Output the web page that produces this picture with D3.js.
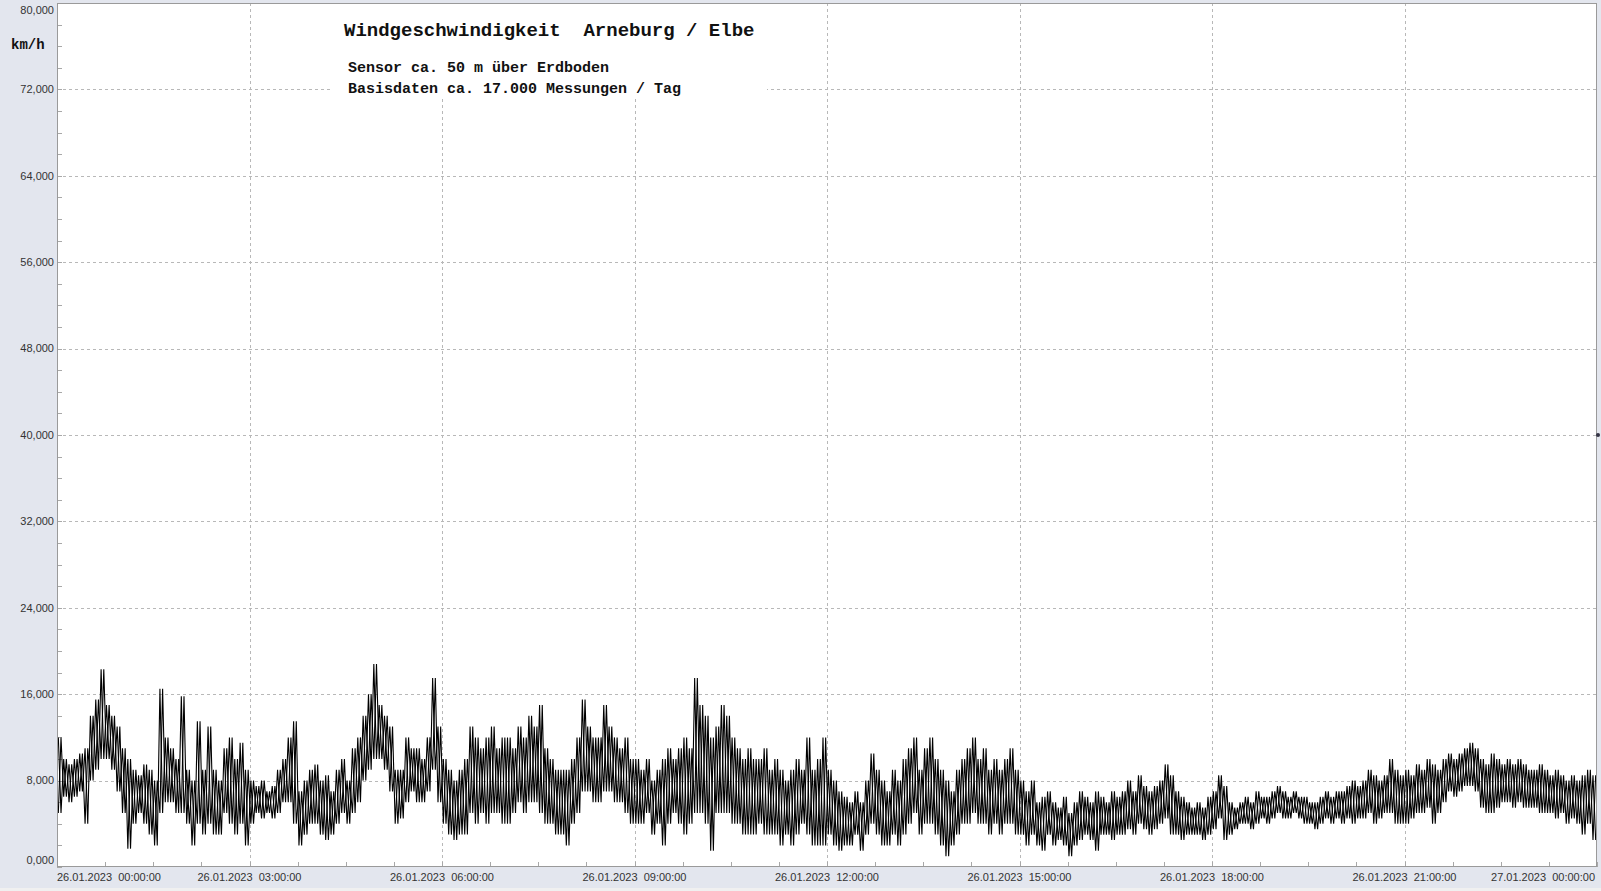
<!DOCTYPE html>
<html><head><meta charset="utf-8">
<script src="https://cdn.jsdelivr.net/npm/d3@7"></script>
<style>
html,body{margin:0;padding:0;background:#e3e6ee;}
svg{display:block;}
text{white-space:pre;}
</style></head>
<body>
<svg id="chart" width="1601" height="891"></svg>
<script>
// ---------- data ----------
const titleText = "Windgeschwindigkeit  Arneburg / Elbe";
const subtitle1 = "Sensor ca. 50 m über Erdboden";
const subtitle2 = "Basisdaten ca. 17.000 Messungen / Tag";
const unitLabel = "km/h";
const yTicks = [0, 8, 16, 24, 32, 40, 48, 56, 64, 72, 80];
const yTickLabels = ["0,000","8,000","16,000","24,000","32,000","40,000","48,000","56,000","64,000","72,000","80,000"];
const xTickHours = [0, 3, 6, 9, 12, 15, 18, 21, 24];
const xTickLabels = ["26.01.2023  00:00:00","26.01.2023  03:00:00","26.01.2023  06:00:00","26.01.2023  09:00:00",
  "26.01.2023  12:00:00","26.01.2023  15:00:00","26.01.2023  18:00:00","26.01.2023  21:00:00","27.01.2023  00:00:00"];
const binMinutes = 5;
// per 5-minute bin: highest reading (km/h), one row per hour
const hiVals = [
 12,10,9.5,10,10.5,11,14,15.5,18.3,15,14,13,
 11,10,9,8.5,9.5,9,8,16.5,12,11,10,15.8,
 9,8,13.5,9,13,9,8,11,12,10,11.5,9,
 8,7.5,8,7,7.5,9,10,12,13.5,7,8,9,
 9.5,8,8.5,7,9,10,8,11,12,14,16,18.8,
 15,14,13,9,9,12,11,11,10,12,17.5,13,
 10,9,8,9,10,13,12,11,12,13,11,12,
 12,11,13,12,14,13,15,11,10,9,9,9,
 10,12,15.5,13,12,12,15,13,12,11,12,10,
 10,9,10,8,9,10,11,10,11,12,11,17.5,
 15,14,12,13,15,14,12,11,10,11,10,10,
 11,9,10,9,8,9,10,9,12,9,10,12,
 9,8,7,6.5,6,7,6,8,10.5,9,8,7,
 9,8,10,11,12,9,11,12,10,9,8,7,
 9,10,11,12,10,11,9,10,9,10,11,9,
 8,7,8,6,6.5,7,6,5.5,6.5,5,6,7,
 6.5,6,7,6.5,6,7,6.5,7,8,7,8.5,7.5,
 7,7.5,8,9.5,8.5,7,6.5,6,5.5,6,5.5,6.5,
 7,8.5,7.5,6,5.5,6,6.5,6,7,6.5,6.5,7,
 7.5,7,6.5,7,6.5,6.5,6,6,6.5,7,6.5,7,
 7,7.5,8,7.5,8,9,8.5,8,8.5,10,9,8.5,
 9,8.5,9.5,9,10,9.5,9,10,10.5,10,10.5,11,
 11.5,11,10,9.5,10.5,10,9.5,10,9.5,10,9.5,9,
 9,9.5,9,8.5,9,8.5,8,8.5,8,8.5,9,8.5
];
// per 5-minute bin: lowest reading (km/h), one row per hour
const loVals = [
 5,6.5,6,6.5,7,4,8,9,10,10,9,7,
 5,1.7,4,5,4,3,2,5,6,6,5,5,
 4,2,4,3,4,3,3,5,4,3,4,2,
 4,5,4.5,5,4.5,5,6,6,4,2,3,4,
 4,3,2.5,3,4,5,4,5,6,8,9,10,
 10,9,7,4,4.5,6,7,6,6,7,9,6,
 4,3,2.5,3,3,5,4,5,4,5,5,4,
 4,5,6,5,6,6,5,4,4,3,3,2,
 4,5,7,7,6,6,7,7,6,6,5,4,
 4,4,5,3,4,2,4,5,4,3,4,5,
 5,4,1.5,5,5,5,4,4,3,3,3,4,
 3,3,3,2,3,2,3,4,3,2,2,2,
 3,2,1.5,2,2,3,1.5,3,4,3,2,2,
 3,2,3,4,5,3,4,4,3,2,1,2,
 3,4,4,5,4,4,3,4,3,4,4,3,
 3,2,3,2,1.5,3,2,2.5,2,1,2,2.5,
 3,2.5,1.5,3,3,2.5,3,3,3.5,3,4,3.5,
 3,3.5,4,4.5,3,3,2.5,3,3,3,2.5,3,
 3.5,4.5,2.5,3,3.5,4,4,3.5,4,4.5,4,4.5,
 5,4.5,4.5,5,4.5,4,4,3.5,4,4.5,4,4.5,
 4,4.5,4,4.5,4.5,5,4,4.5,5,5,4,4,
 4,4.5,5,5,5.5,4,5,6,7,6.5,7,7.5,
 7.5,7,5.5,5,5,5.5,6,6,5.5,6,5.5,5.5,
 5.5,5,5,5,4.5,5,4,4.5,4,3,4,2.5
];

// ---------- layout ----------
const W = 1601, H = 891;
const plot = {left: 57, right: 1597, top: 3, bottom: 867};
const svg = d3.select("#chart");
const t0 = new Date(2023, 0, 26, 0, 0, 0);
const t1 = new Date(2023, 0, 27, 0, 0, 0);
const x = d3.scaleTime().domain([t0, t1]).range([plot.left, plot.right]);
const y = d3.scaleLinear().domain([0, 80]).range([plot.bottom, plot.top]);
const hourDate = h => new Date(t0.getTime() + h * 3600e3);

svg.append("rect").attr("x",0).attr("y",0).attr("width",W).attr("height",H).attr("fill","#e3e6ee");
svg.append("rect").attr("x",0).attr("y",888).attr("width",W).attr("height",3).attr("fill","#f0f0f0");
svg.append("rect").attr("x",plot.left).attr("y",plot.top).attr("width",plot.right-plot.left)
  .attr("height",plot.bottom-plot.top).attr("fill","#ffffff");

// grid
const grid = svg.append("g").attr("stroke","#b8b8b8").attr("stroke-dasharray","3,3").attr("stroke-width",1);
yTicks.filter(v => v > 0 && v < 80).forEach(v => {
  grid.append("line").attr("x1",plot.left).attr("x2",plot.right)
    .attr("y1",Math.round(y(v))+0.5).attr("y2",Math.round(y(v))+0.5);
});
xTickHours.filter(h => h > 0 && h < 24).forEach(h => {
  const xx = Math.round(x(hourDate(h)))+0.5;
  grid.append("line").attr("x1",xx).attr("x2",xx).attr("y1",plot.top).attr("y2",plot.bottom);
});

// minor ticks
const minor = svg.append("g").attr("stroke","#a8a8a8").attr("stroke-width",1);
d3.range(0, 80.001, 2).forEach(v => {
  const yy = Math.round(y(v))+0.5;
  minor.append("line").attr("x1",plot.left).attr("x2",plot.left+5).attr("y1",yy).attr("y2",yy);
});
d3.range(0, 24.001, 0.75).forEach(h => {
  const xx = Math.round(x(hourDate(h)))+0.5;
  minor.append("line").attr("x1",xx).attr("x2",xx).attr("y1",plot.bottom).attr("y2",plot.bottom-5);
});

// data: each bin's range traced as a zig-zag in both phases (high→low and low→high)
const ptsA = [], ptsB = [];
hiVals.forEach((hv, i) => {
  const s = i * binMinutes;
  ptsA.push([hourDate((s + binMinutes*0.25)/60), hv]);
  ptsA.push([hourDate((s + binMinutes*0.75)/60), loVals[i]]);
  ptsB.push([hourDate((s + binMinutes*0.25)/60), loVals[i]]);
  ptsB.push([hourDate((s + binMinutes*0.75)/60), hv]);
});
const line = d3.line().x(d => x(d[0])).y(d => y(d[1]));
[ptsA, ptsB].forEach(p => {
  svg.append("path").datum(p).attr("d", line).attr("fill","none")
    .attr("stroke","#000").attr("stroke-width",1.1).attr("stroke-linejoin","miter");
});

// plot border
svg.append("rect").attr("x",plot.left+0.5).attr("y",plot.top+0.5).attr("width",plot.right-plot.left-1)
  .attr("height",plot.bottom-plot.top-1).attr("fill","none").attr("stroke","#9a9a9a");

// y labels
const yl = svg.append("g").attr("font-family","'Liberation Sans', Arial, sans-serif").attr("font-size",11)
  .attr("fill","#333").attr("text-anchor","end");
yTicks.forEach((v, i) => {
  let yy = y(v);
  if (v === 80) yy = 10;
  if (v === 0) yy = 860;
  yl.append("text").attr("x",54).attr("y",yy).attr("dy","0.35em").text(yTickLabels[i]);
});

// x labels
const xl = svg.append("g").attr("font-family","'Liberation Sans', Arial, sans-serif").attr("font-size",11)
  .attr("fill","#333");
xTickHours.forEach((h, i) => {
  let anchor = "middle", xx = x(hourDate(h));
  if (i === 0) { anchor = "start"; xx = plot.left; }
  if (i === xTickHours.length-1) { anchor = "end"; xx = plot.right - 2; }
  xl.append("text").attr("x",xx).attr("y",881).attr("text-anchor",anchor).text(xTickLabels[i]);
});

// unit label
svg.append("text").attr("x",11).attr("y",49).attr("font-family","'Liberation Mono', 'Courier New', monospace")
  .attr("font-weight","bold").attr("font-size",14).attr("fill","#111").text(unitLabel);

// title box
svg.append("rect").attr("x",333).attr("y",4).attr("width",434).attr("height",93).attr("fill","#ffffff");
svg.append("text").attr("x",344).attr("y",36).attr("font-family","'Liberation Mono', 'Courier New', monospace")
  .attr("font-weight","bold").attr("font-size",19).attr("fill","#111").text(titleText);
svg.append("text").attr("x",348).attr("y",72).attr("font-family","'Liberation Mono', 'Courier New', monospace")
  .attr("font-weight","bold").attr("font-size",15).attr("fill","#111").text(subtitle1);
svg.append("text").attr("x",348).attr("y",93).attr("font-family","'Liberation Mono', 'Courier New', monospace")
  .attr("font-weight","bold").attr("font-size",15).attr("fill","#111").text(subtitle2);

// small marker on right edge
svg.append("circle").attr("cx",plot.right+1).attr("cy",y(40)).attr("r",2).attr("fill","#334");
</script>
</body></html>
